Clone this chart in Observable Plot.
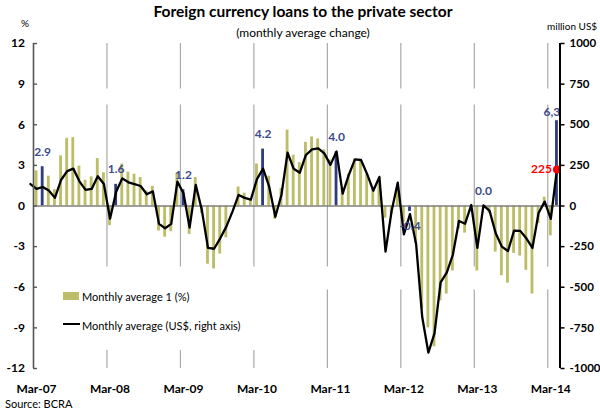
<!DOCTYPE html>
<html><head><meta charset="utf-8">
<script src="https://cdn.jsdelivr.net/npm/d3@7"></script>
<script src="https://cdn.jsdelivr.net/npm/@observablehq/plot@0.6"></script>
<style>
html,body{margin:0;padding:0;background:#fff;}
#wrap{position:relative;width:600px;height:411px;font-family:Lato,"Open Sans",sans-serif;overflow:hidden;background:#fff;}
#wrap svg{position:absolute;left:0;top:0;}
#wrap svg text{font-weight:700;}
.abs{position:absolute;white-space:nowrap;line-height:1;color:#000;}
</style></head><body>
<div id="wrap"></div>
<script>
// Monthly categories: index 0 = Mar-07 ... index 85 = Apr-14
const xTickIdx = [0, 12, 24, 36, 48, 60, 72, 84];
const xTickLabels = ["Mar-07","Mar-08","Mar-09","Mar-10","Mar-11","Mar-12","Mar-13","Mar-14"];
const gridIdx = [11.5, 23.5, 35.5, 47.5, 59.5, 71.5, 83.5];
const leftTicks = [-12, -9, -6, -3, 0, 3, 6, 9, 12];
const rightTicks = [-1000, -750, -500, -250, 0, 250, 500, 750, 1000];

// Monthly average change of foreign currency loans (%), Mar-07 .. Apr-14
const loanPct = [
  2.6, 2.9, 2.2, 1.2, 3.7, 5.0, 5.05, 2.95, 1.9, 2.15, 3.5, 2.45,
  -1.45, 1.6, 3.1, 2.5, 2.35, 2.1, 1.1, 1.45, -1.85, -2.3, -1.9, 2.4,
  1.2, -2.1, 2.1, -0.55, -4.3, -4.65, -3.55, -2.35, 0, 1.4, 0.95, 0.4,
  3.1, 4.2, 2.2, -1.0, 1.3, 5.6, 3.75, 3.2, 4.7, 5.1, 4.95, 4.15,
  3.4, 4.0, 1.3, 2.35, 3.45, 3.4, 2.4, 1.2, 1.85, -0.9, -0.6, 1.3,
  -1.2, -0.4, -2.75, -7.6, -9.0, -10.4, -7.0, -6.5, -4.8, -1.7, -2.0, 0,
  -4.8, 0.0, -0.55, -3.4, -5.15, -5.7, -3.5, -3.7, -4.75, -6.5, -1.3, 0.65,
  -2.2, 6.3
];
// Monthly average change (million US$, right axis), Feb-07 .. Apr-14
const usdFirstIndex = -1;
const usdChange = [
  135,
  105, 117, 95, 50, 160, 215, 230, 152, 99, 105, 183, 135,
  -78, 88, 170, 146, 135, 123, 72, 90, -110, -137, -110, 150,
  78, -133, 130, -25, -258, -263, -199, -127, -35, 68, 50, 39,
  165, 230, 119, -66, 68, 328, 229, 205, 314, 349, 355, 324,
  253, 335, 76, 191, 287, 283, 196, 94, 179, -281, -30, 144,
  -175, -50, -235, -685, -902, -784, -470, -410, -300, -92, -109, 6,
  -258, 4, -30, -168, -250, -277, -152, -153, -199, -258, -43, 27,
  -79, 225
];
// Highlighted months and their labels
const highlighted = [1, 13, 24, 37, 49, 61, 73, 85];
const highlightLabels = ["2.9", "1.6", "1.2", "4.2", "4.0", "-0.4", "0.0", "6,3"];

const olive = "#bcbd66";
const navy = "#2f3d80";
const labelBlue = "#3c4b8c";
const gridColor = "#a9a9a9";
const r = 12 / 1000; // right axis -> left axis units

const bars = loanPct.map((v, i) => ({i, v, hi: highlighted.includes(i)}));
const line = usdChange.map((v, k) => ({i: k + usdFirstIndex, v}));
const last = line[line.length - 1];
const hiLab = highlighted.map((i, k) => ({i, v: loanPct[i], t: highlightLabels[k]}));
const labAbove = hiLab.filter(d => d.v >= 0 && d.i !== 85);
const labBelow = hiLab.filter(d => d.v < 0);
const labLast = hiLab.filter(d => d.i === 85);

const chart = Plot.plot({
  width: 600, height: 411,
  marginLeft: 33, marginRight: 40.5, marginTop: 43, marginBottom: 43,
  style: {fontFamily: "Lato, 'Open Sans', sans-serif", fontSize: "12px", background: "transparent", overflow: "visible"},
  x: {domain: [-0.5, 85.5], axis: null},
  y: {domain: [-12, 12], axis: null},
  marks: [
    Plot.ruleX(gridIdx, {x: d => d, y1: 12, y2: 8.64, stroke: gridColor, strokeWidth: 1.2}),
    Plot.ruleX(gridIdx, {x: d => d, y1: 7.46, y2: -4.5, stroke: gridColor, strokeWidth: 1.2}),
    Plot.ruleX(gridIdx, {x: d => d, y1: -6.2, y2: -12, stroke: gridColor, strokeWidth: 1.2}),
    Plot.rect(bars, {x1: d => d.i - 0.23, x2: d => d.i + 0.23, y1: 0, y2: "v", fill: d => d.hi ? navy : olive}),
    Plot.ruleY([0], {stroke: "#7f7f7f", strokeWidth: 1.5}),
    Plot.line(line, {x: "i", y: d => d.v * r, stroke: "#000", strokeWidth: 2.3, strokeLinejoin: "round"}),
    Plot.dot([last], {x: "i", y: d => d.v * r, r: 4, fill: "#ff0000"}),
    Plot.text([last], {x: "i", y: d => d.v * r, text: d => String(d.v), dx: -5, textAnchor: "end", fill: "#ff0000", fontSize: 12}),
    Plot.text(labAbove, {x: "i", y: "v", text: "t", dy: -15, fill: labelBlue, fontSize: 12}),
    Plot.text(labBelow, {x: "i", y: "v", text: "t", dy: 15, fill: labelBlue, fontSize: 12}),
    Plot.text(labLast, {x: "i", y: "v", text: "t", dy: -9, dx: -5, fill: labelBlue, fontSize: 12}),
    Plot.ruleX([-0.5], {stroke: "#555", strokeWidth: 1.6}),
    Plot.ruleX([85.5], {stroke: "#000", strokeWidth: 2}),
    Plot.ruleY(leftTicks, {y: d => d, x1: -0.5, x2: 0.15, stroke: "#555", strokeWidth: 1.4}),
    Plot.axisY(leftTicks, {anchor: "left", label: null, tickSize: 0, tickPadding: 8.5, tickFormat: d => String(d), fontSize: 12}),
    Plot.axisY(rightTicks.map(v => v * r), {anchor: "right", label: null, tickSize: 4, tickPadding: 5.5, strokeWidth: 1.5, tickFormat: d => String(Math.round(d / r)), fontSize: 11.5}),
    Plot.axisX(xTickIdx, {anchor: "bottom", label: null, tickSize: 0, tickPadding: 16, tickFormat: d => xTickLabels[xTickIdx.indexOf(d)], fontSize: 12})
  ]
});

const wrap = document.getElementById("wrap");
wrap.appendChild(chart);

function addDiv(html, style) {
  const el = document.createElement("div");
  el.className = "abs";
  el.innerHTML = html;
  Object.assign(el.style, style);
  wrap.appendChild(el);
  return el;
}
addDiv("Foreign currency loans to the private sector", {left: "0px", width: "606px", textAlign: "center", top: "3.5px", fontSize: "15.5px", fontWeight: "700"});
addDiv("(monthly average change)", {left: "0px", width: "606px", textAlign: "center", top: "26.5px", fontSize: "12px"});
addDiv("%", {left: "21px", top: "18px", fontSize: "10px"});
addDiv("million US$", {left: "547px", top: "21px", fontSize: "10px"});
addDiv("Source: BCRA", {left: "5px", top: "398px", fontSize: "11px"});
// legend
addDiv("", {left: "57px", top: "272px", width: "199px", height: "78px", background: "#fff"});
addDiv("", {left: "63px", top: "292px", width: "16px", height: "8px", background: olive});
addDiv("Monthly average 1 (%)", {left: "82px", top: "291px", fontSize: "11px"});
addDiv("", {left: "63px", top: "323px", width: "17px", height: "2.3px", background: "#000"});
addDiv("Monthly average (US$, right axis)", {left: "82px", top: "319.5px", fontSize: "11px"});
</script>
</body></html>
